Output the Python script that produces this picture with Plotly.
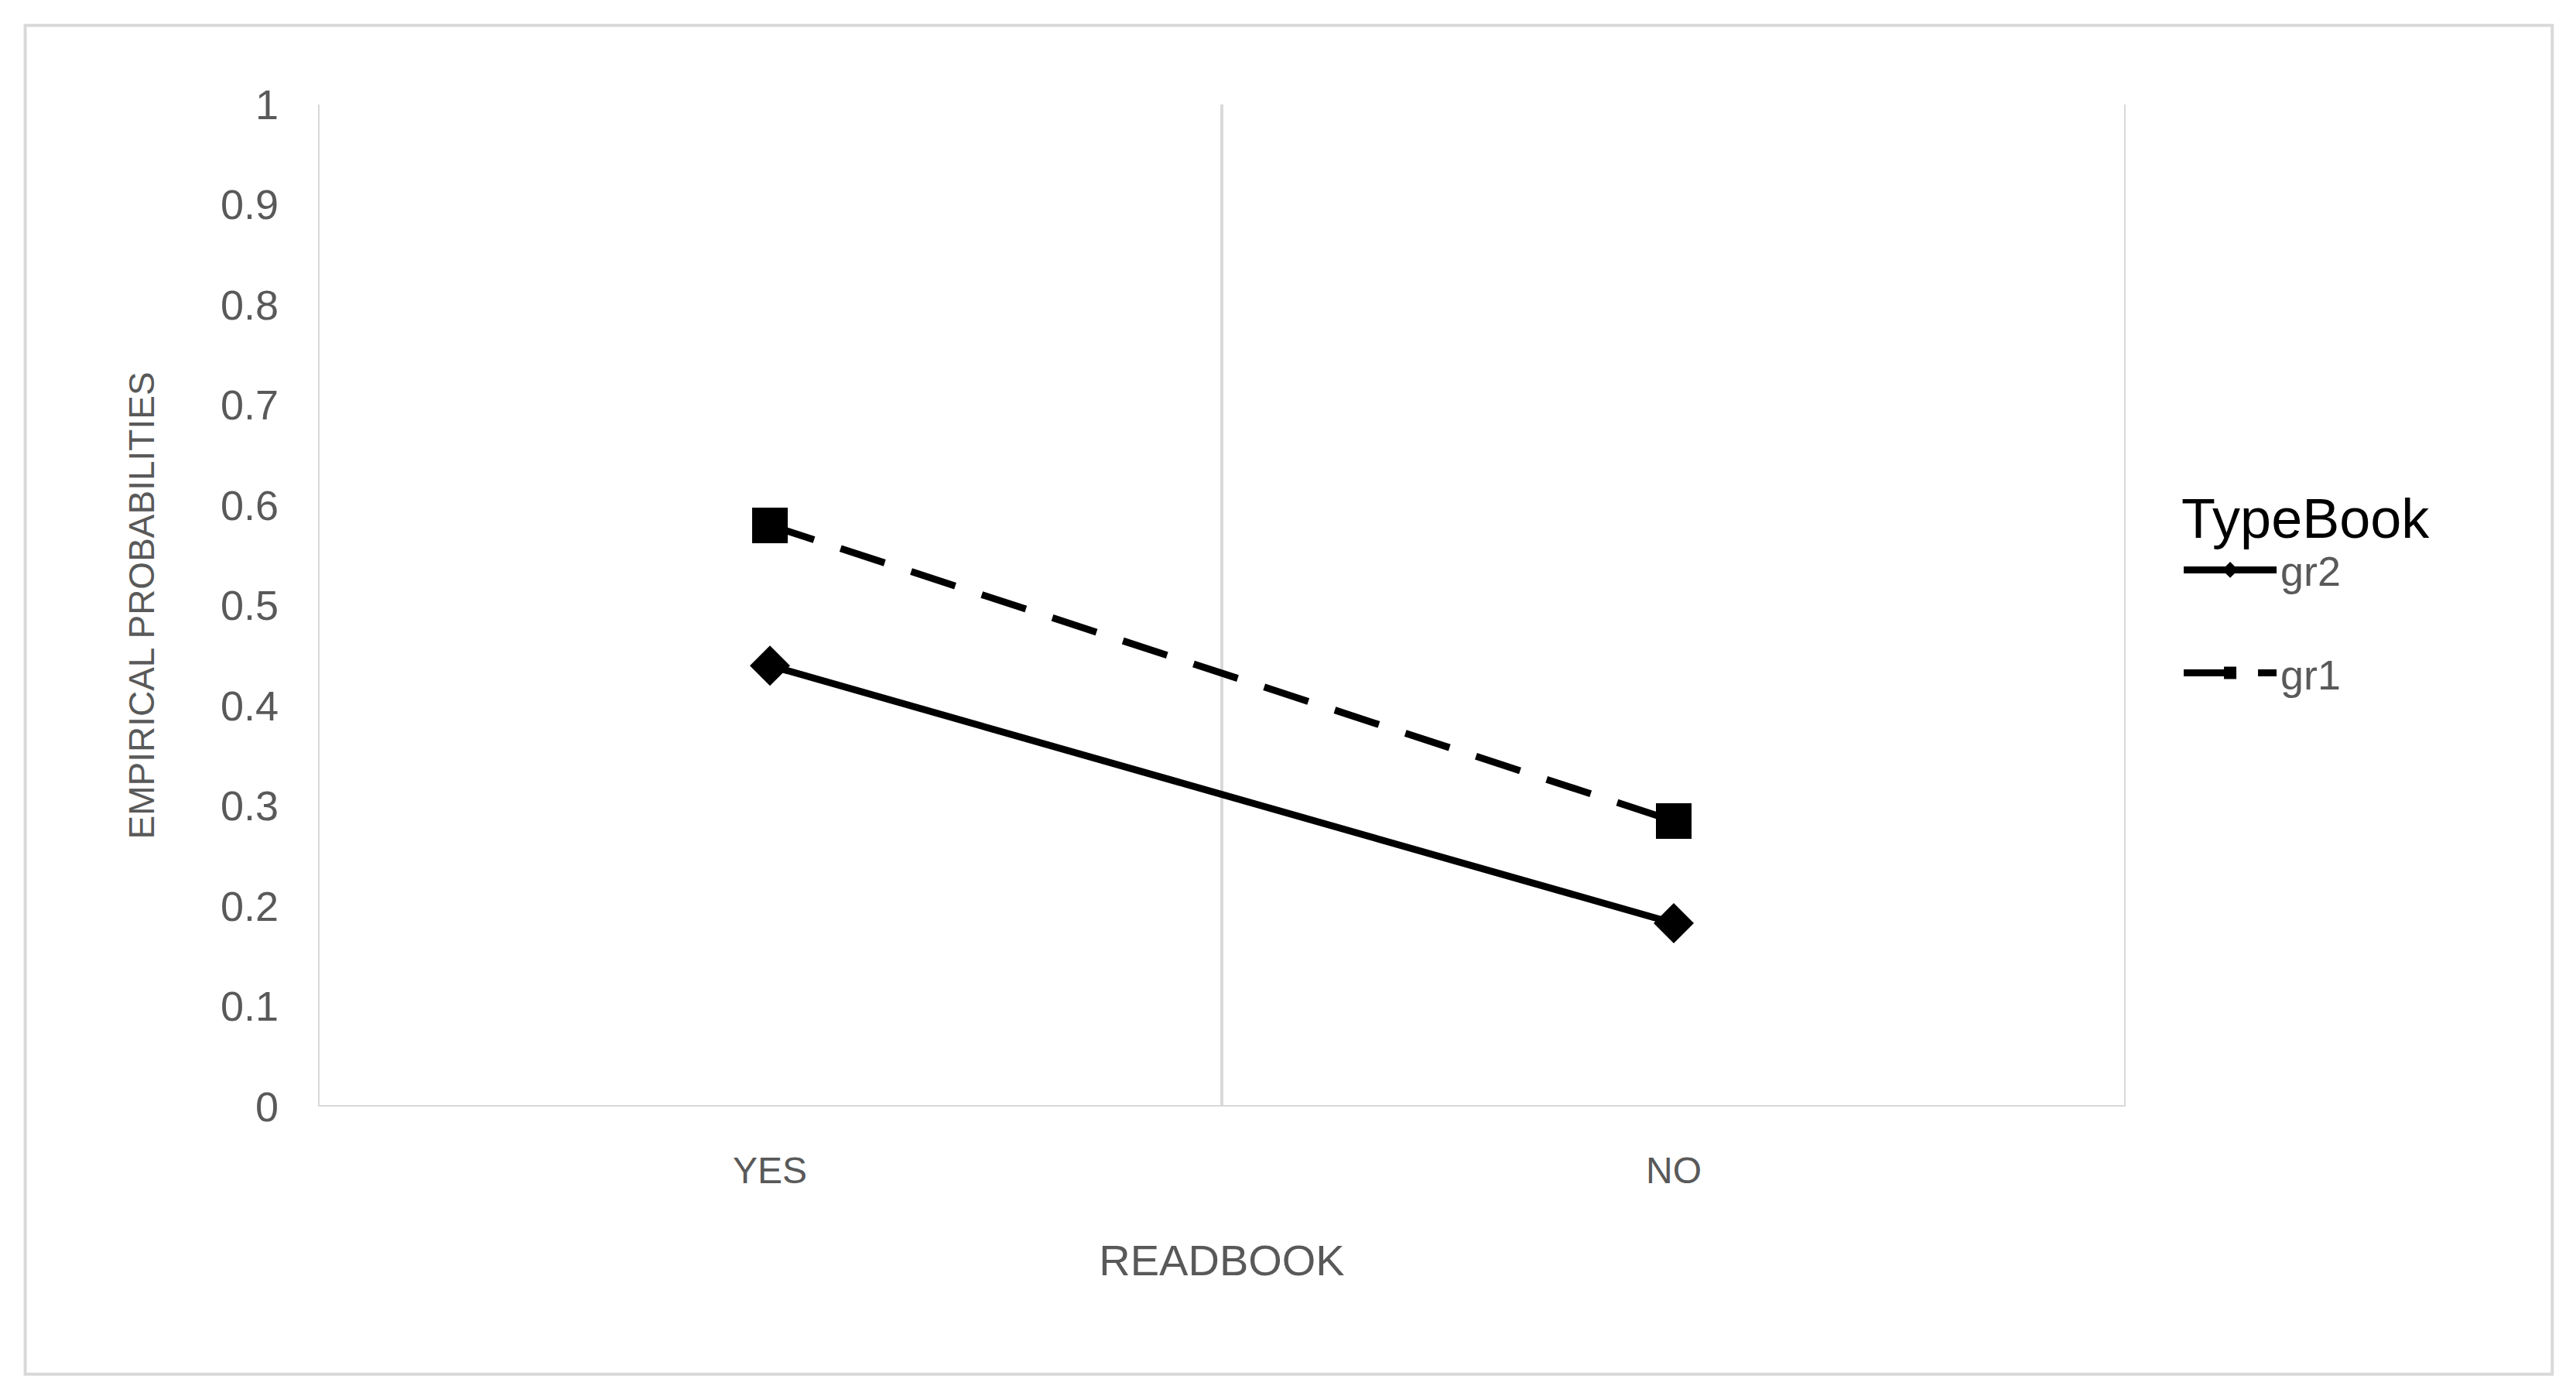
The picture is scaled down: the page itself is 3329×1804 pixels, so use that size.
import plotly.graph_objects as go

categories = ["YES", "NO"]
gr2 = [0.44, 0.183]
gr1 = [0.58, 0.285]
y_ticks = [0, 0.1, 0.2, 0.3, 0.4, 0.5, 0.6, 0.7, 0.8, 0.9, 1]
y_ticklabels = ["0", "0.1", "0.2", "0.3", "0.4", "0.5", "0.6", "0.7", "0.8", "0.9", "1"]

xpos = [i + 0.5 for i in range(len(categories))]
font = "Liberation Sans"
grey = "#595959"

fig = go.Figure()
fig.add_trace(go.Scatter(x=xpos, y=gr2, name="gr2", mode="lines+markers", legendgroup="a",
                         line=dict(color="black", width=9),
                         marker=dict(symbol="diamond", size=40, color="black")))
fig.add_trace(go.Scatter(x=xpos, y=gr1, name="gr1", mode="lines+markers", legendgroup="b",
                         line=dict(color="black", width=9, dash="60px,36px"),
                         marker=dict(symbol="square", size=46, color="black")))

fig.update_layout(
    width=3329, height=1804, paper_bgcolor="white", plot_bgcolor="white",
    margin=dict(l=403, r=590, t=127, b=382),
    font=dict(family=font, color=grey, size=54),
    xaxis=dict(range=[0, 2], tickvals=xpos, ticktext=categories, showgrid=False,
               tickfont=dict(size=48), ticks="", zeroline=False, ticklabelstandoff=50,
               showline=False, title=dict(text="READBOOK", font=dict(size=56), standoff=70)),
    yaxis=dict(range=[0, 1], tickvals=y_ticks, ticktext=y_ticklabels, showgrid=False,
               zeroline=False, ticks="", ticklabelstandoff=50,
               title=dict(text="EMPIRICAL PROBABILITIES", font=dict(size=46), standoff=70)),
    legend=dict(x=1.03, y=0.64, xanchor="left", yanchor="top",
                title=dict(text="TypeBook", font=dict(size=72, color="black")),
                font=dict(size=54, color=grey), itemwidth=120, tracegroupgap=60),
    showlegend=True,
)
for xv in [0, 1, 2]:
    fig.add_shape(type="line", xref="x", yref="y", x0=xv, x1=xv, y0=0, y1=1,
                  line=dict(color="#D9D9D9", width=4), layer="below")
fig.add_shape(type="line", xref="x", yref="y", x0=0, x1=2, y0=0, y1=0,
              line=dict(color="#D9D9D9", width=4), layer="below")
fig.add_shape(type="rect", xref="paper", yref="paper", x0=-0.162, x1=1.236, y0=-0.267, y1=1.079,
              line=dict(color="#D9D9D9", width=4))
fig.write_html("out.html")
